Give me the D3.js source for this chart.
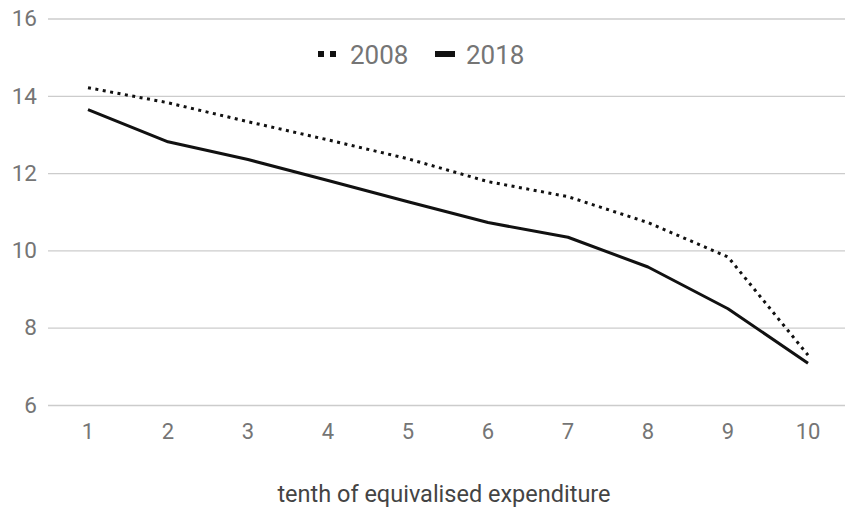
<!DOCTYPE html>
<html><head><meta charset="utf-8">
<script src="https://cdn.jsdelivr.net/npm/d3@7"></script>
<style>body{margin:0;background:#fff}svg{display:block}text{font-family:Roboto,sans-serif}</style>
</head><body><svg id="c" width="845" height="509"></svg>
<script>
const categories = [1,2,3,4,5,6,7,8,9,10];
const series2008 = [14.21,13.82,13.33,12.86,12.37,11.78,11.39,10.72,9.83,7.29];
const series2018 = [13.64,12.81,12.35,11.81,11.26,10.72,10.34,9.57,8.49,7.08];
const yTicks = [6,8,10,12,14,16];
const seriesNames = ["2008","2018"];
const xTitle = "tenth of equivalised expenditure";

const svg = d3.select("#c");
const x = d3.scaleBand().domain(categories).range([48,848]);
const y = d3.scaleLinear().domain([6,16]).range([405,18.5]);
const cx = d => x(d) + x.bandwidth()/2;

const yAxis = d3.axisLeft(y).tickValues(yTicks).tickSize(-800).tickPadding(11);
const gy = svg.append("g").attr("transform","translate(48,0)").call(yAxis);
gy.select(".domain").remove();
gy.selectAll("line").attr("stroke","#cccccc").attr("stroke-width",1.3);
gy.selectAll("text").attr("fill","#757575").attr("font-size",22.5).attr("font-family","Roboto");

const xAxis = d3.axisBottom(x).tickSize(0).tickPadding(18);
const gx = svg.append("g").attr("transform","translate(0,405)").call(xAxis);
gx.select(".domain").remove();
gx.selectAll("text").attr("fill","#757575").attr("font-size",22).attr("font-family","Roboto");

svg.append("text").attr("x",444).attr("y",502).attr("text-anchor","middle")
  .attr("fill","#444").attr("font-size",23.5).text(xTitle);

const line = d3.line().x((d,i)=>cx(categories[i])).y(d=>y(d));
svg.append("path").datum(series2008).attr("d",line).attr("fill","none")
  .attr("stroke","#111").attr("stroke-width",3).attr("stroke-dasharray","3,4.5");
svg.append("path").datum(series2018).attr("d",line).attr("fill","none")
  .attr("stroke","#111").attr("stroke-width",3).attr("stroke-linejoin","round");

const lg = svg.append("g");
lg.append("line").attr("x1",318).attr("x2",338).attr("y1",54).attr("y2",54)
  .attr("stroke","#111").attr("stroke-width",6).attr("stroke-dasharray","6,6");
lg.append("text").attr("x",350).attr("y",63.5).attr("fill","#757575").attr("font-size",26).text(seriesNames[0]);
lg.append("line").attr("x1",435).attr("x2",455).attr("y1",54).attr("y2",54)
  .attr("stroke","#111").attr("stroke-width",6);
lg.append("text").attr("x",466).attr("y",63.5).attr("fill","#757575").attr("font-size",26).text(seriesNames[1]);
</script></body></html>
